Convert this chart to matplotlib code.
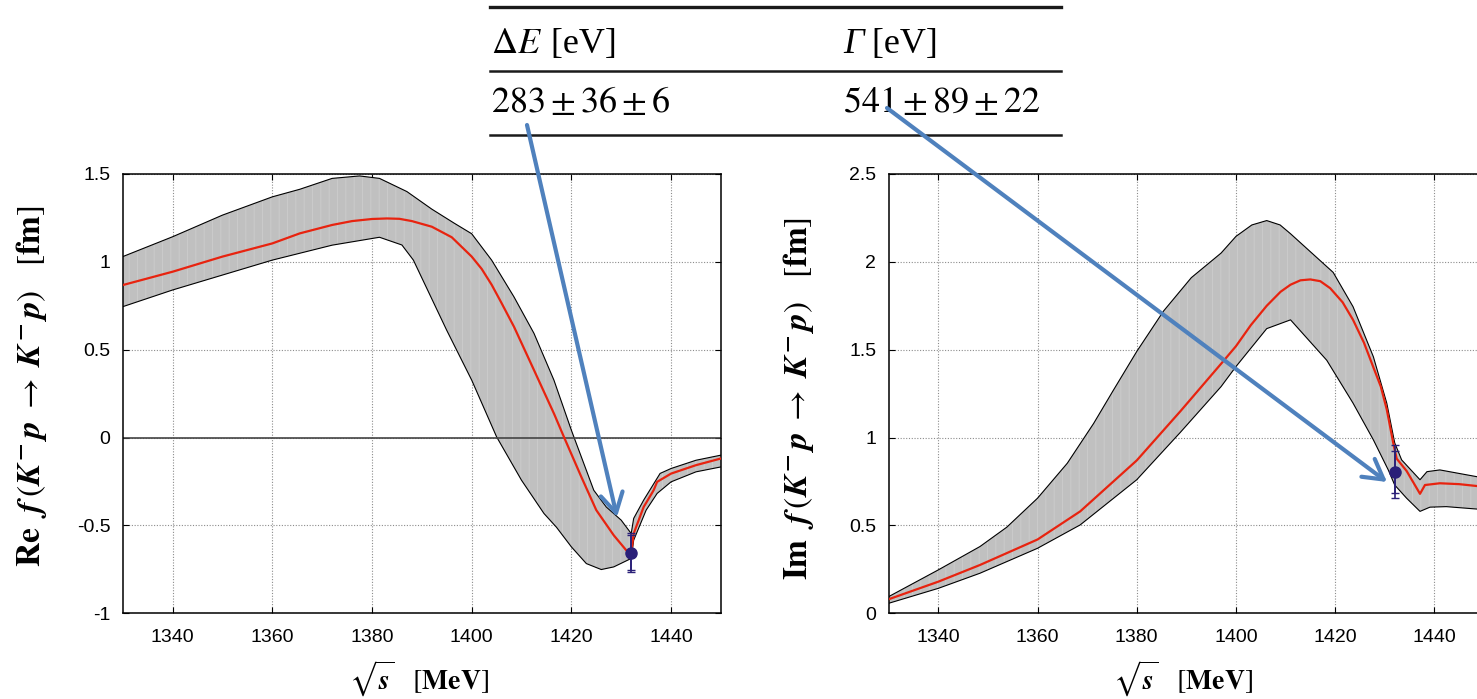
import numpy as np
import matplotlib
matplotlib.use('Agg')
import matplotlib.pyplot as plt
from matplotlib.patches import FancyArrowPatch
from matplotlib.lines import Line2D
from matplotlib.ticker import FormatStrFormatter

plt.rcParams['font.family'] = ['Liberation Sans', 'DejaVu Sans']
plt.rcParams['mathtext.fontset'] = 'stix'
plt.rcParams['axes.unicode_minus'] = False
plt.rcParams['hatch.linewidth'] = 0.6

W, H = 1477, 699

# ---- Re f : central curve and error band ----
re_x_c = [1330, 1340, 1350, 1360, 1365.5, 1372, 1376, 1380, 1383, 1385.5, 1388, 1392,
          1396, 1400, 1402, 1404, 1406, 1408.5, 1412.5, 1416.5, 1418.5, 1422, 1425,
          1428.5, 1431, 1432, 1432.5, 1434.5, 1436.5, 1437.2, 1440, 1445, 1450]
re_c = [0.868, 0.944, 1.03, 1.105, 1.162, 1.21, 1.232, 1.244, 1.247, 1.245, 1.232,
        1.20, 1.14, 1.03, 0.96, 0.87, 0.765, 0.63, 0.384, 0.137, 0.004, -0.224, -0.413,
        -0.556, -0.641, -0.66, -0.546, -0.395, -0.30, -0.252, -0.205, -0.157, -0.119]
re_x_u = [1330, 1340, 1350, 1360, 1365.5, 1372, 1377.5, 1381.5, 1387, 1392, 1396.5, 1400,
          1404, 1408.5, 1412.5, 1416.5, 1420, 1422, 1424.5, 1427, 1430, 1432, 1432.5,
          1434.5, 1437.8, 1440, 1445, 1450]
re_u = [1.03, 1.143, 1.266, 1.37, 1.413, 1.475, 1.489, 1.475, 1.40, 1.30, 1.22, 1.16,
        1.01, 0.80, 0.593, 0.327, 0.042, -0.11, -0.30, -0.395, -0.47, -0.546, -0.46,
        -0.356, -0.204, -0.176, -0.129, -0.10]
re_x_l = [1330, 1340, 1350, 1360, 1372, 1381.5, 1386, 1388.3, 1395, 1400, 1405, 1410,
          1414.5, 1417, 1420, 1423, 1426, 1428.5, 1432, 1432.5, 1435, 1437.2, 1440,
          1445, 1450]
re_l = [0.745, 0.84, 0.925, 1.01, 1.095, 1.14, 1.096, 1.01, 0.61, 0.327, 0.004, -0.243,
        -0.432, -0.51, -0.622, -0.717, -0.751, -0.736, -0.688, -0.584, -0.413, -0.318,
        -0.252, -0.195, -0.167]
re_pt = (1432, -0.655)
re_err = [0.11, 0.10]

# ---- Im f : central curve and error band ----
im_x_c = [1330, 1340, 1348.4, 1360, 1368.6, 1380, 1388.8, 1397, 1400, 1403, 1406.2,
          1409, 1411, 1413, 1415, 1417, 1419, 1421.5, 1423.6, 1425.8, 1427.7, 1429.2,
          1430.4, 1431.7, 1432.4, 1434.4, 1437.1, 1438.1, 1441.1, 1445, 1450]
im_c = [0.08, 0.18, 0.275, 0.42, 0.58, 0.87, 1.15, 1.42, 1.52, 1.64, 1.75, 1.83, 1.87,
        1.895, 1.90, 1.89, 1.85, 1.77, 1.67, 1.54, 1.40, 1.29, 1.16, 0.97, 0.88, 0.81,
        0.68, 0.73, 0.74, 0.735, 0.72]
im_x_u = [1330, 1340, 1348.4, 1353.8, 1360, 1366, 1371.3, 1375.3, 1380, 1385.4, 1391,
          1397, 1400, 1403.2, 1406.2, 1408.9, 1411, 1419.6, 1423.6, 1427.7, 1430.4,
          1432, 1433.4, 1437.1, 1438.5, 1441.1, 1450]
im_u = [0.095, 0.247, 0.38, 0.49, 0.655, 0.854, 1.08, 1.27, 1.49, 1.72, 1.91, 2.05,
        2.145, 2.21, 2.235, 2.21, 2.16, 1.94, 1.745, 1.46, 1.196, 0.97, 0.873, 0.76,
        0.806, 0.816, 0.77]
im_x_l = [1330, 1340, 1348.4, 1360, 1368.6, 1380, 1388.8, 1397, 1400, 1406.2, 1411,
          1418.3, 1423.6, 1427.7, 1430.7, 1432, 1434.4, 1437.1, 1439.1, 1442.4, 1450]
im_l = [0.057, 0.142, 0.228, 0.37, 0.503, 0.76, 1.03, 1.29, 1.404, 1.62, 1.67, 1.44,
        1.196, 0.987, 0.816, 0.73, 0.655, 0.58, 0.604, 0.607, 0.59]
im_pt = (1432, 0.806)
im_err = [0.15, 0.12]

x_ticks = [1340, 1360, 1380, 1400, 1420, 1440]
re_ticks = [-1, -0.5, 0, 0.5, 1, 1.5]
im_ticks = [0, 0.5, 1, 1.5, 2, 2.5]

table_symbols = [r'$\Delta E$', 'Γ']
table_units = [' [eV]', ' [eV]']
table_vals = [r'$283 \pm 36 \pm 6$', r'$541 \pm 89 \pm 22$']

RED = '#e8230f'
BAND = '#c0c0c0'
PT = '#2a1f78'
ARROW = '#4f81bd'
SERIF = 'Liberation Serif'


def fxy(x, y):
    return (x / W, 1 - y / H)


def draw_panel(ax, xc, yc, xu, yu, xl, yl, pt, errs, yticks, ylim, ylabel, lab_xy,
               zero=False):
    poly_x = np.concatenate([xu, xl[::-1]])
    poly_y = np.concatenate([yu, yl[::-1]])
    ax.fill(poly_x, poly_y, facecolor=BAND, edgecolor='none', zorder=1)
    ax.fill(poly_x, poly_y, facecolor='none', edgecolor='#cdcdcd', hatch='||',
            linewidth=0, zorder=1.1)
    ax.plot(xu, yu, color='black', lw=0.8, zorder=2)
    ax.plot(xl, yl, color='black', lw=0.8, zorder=2)
    if zero:
        ax.axhline(0, color='#444444', lw=1.2, zorder=2.5)
    ax.plot(xc, yc, color=RED, lw=1.6, zorder=3)
    for e in errs:
        ax.errorbar([pt[0]], [pt[1]], yerr=[e], fmt='none', ecolor=PT,
                    elinewidth=1.2, capsize=3, capthick=1.0, zorder=4)
    ax.plot([pt[0]], [pt[1]], 'o', color=PT, ms=8, zorder=5)

    ax.set_xlim(1330, 1450)
    ax.set_ylim(*ylim)
    ax.set_xticks(x_ticks)
    ax.set_yticks(yticks)
    ax.yaxis.set_major_formatter(FormatStrFormatter('%g'))
    ax.grid(True, color='#8c8c8c', lw=0.8, linestyle=(0, (1, 1.5)))
    ax.set_axisbelow(True)
    ax.tick_params(direction='in', top=True, right=True, length=4, width=0.8,
                   labelsize=14)
    ax.tick_params(axis='x', pad=11)
    ax.tick_params(axis='y', pad=9)
    for s in ax.spines.values():
        s.set_linewidth(1.1)
    ax.set_ylabel(ylabel, fontsize=24)
    ax.yaxis.set_label_coords(*lab_xy)
    ax.set_xlabel(r'$\sqrt{\mathbfit{s}}\ \ \ [\mathbf{MeV}]$', fontsize=20)
    ax.xaxis.set_label_coords(0.495, -0.104)


fig = plt.figure(figsize=(W / 100, H / 100), dpi=100)
ax1 = fig.add_axes([122.8 / W, (H - 613.3) / H, 598.1 / W, 439.3 / H])
ax2 = fig.add_axes([888.7 / W, (H - 613.3) / H, 595.3 / W, 439.3 / H])

lab = (r'\ \ \mathbfit{f}\,(\mathbfit{K}^{\,\mathbf{-}}\,\mathbfit{p}\;\rightarrow\;'
       r'\mathbfit{K}^{\,\mathbf{-}}\,\mathbfit{p})\ \ \ [\mathbf{fm}]$')
draw_panel(ax1, re_x_c, re_c, np.array(re_x_u), np.array(re_u), np.array(re_x_l),
           np.array(re_l), re_pt, re_err, re_ticks, (-1, 1.5),
           r'$\mathbf{Re}' + lab, (-0.124, 0.516), zero=True)
draw_panel(ax2, im_x_c, im_c, np.array(im_x_u), np.array(im_u), np.array(im_x_l),
           np.array(im_l), im_pt, im_err, im_ticks, (0, 2.5),
           r'$\mathbf{Im}' + lab, (-0.122, 0.49))

# ---- table at the top ----
for (y, lw) in [(7, 2.4), (71, 1.8), (135, 1.8)]:
    fig.add_artist(Line2D([490 / W, 1061 / W], [1 - y / H, 1 - y / H],
                          color='#1a1a1a', lw=lw))
col_x = [491, 843]
for cx, sym, unit, val in zip(col_x, table_symbols, table_units, table_vals):
    style = 'normal' if sym.startswith('$') else 'italic'
    t = fig.text(*fxy(cx, 53), sym, fontsize=26, family=SERIF, style=style,
                 ha='left', va='baseline')
    plt.annotate(unit, xy=(1, 0), xycoords=t, fontsize=26, family=SERIF,
                 ha='left', va='bottom', annotation_clip=False)
    fig.text(*fxy(cx, 112), val, fontsize=26, family=SERIF,
             ha='left', va='baseline')

# ---- arrows from table values to data points ----
for start, end in [((527, 125), (617, 517)), ((887, 108), (1387, 482))]:
    arr = FancyArrowPatch(fxy(*start), fxy(*end), transform=fig.transFigure,
                          arrowstyle='->,head_length=0.7,head_width=0.4',
                          mutation_scale=20, lw=3, color=ARROW,
                          shrinkA=0, shrinkB=0, zorder=10)
    fig.add_artist(arr)

fig.savefig('out.png', dpi=100)
